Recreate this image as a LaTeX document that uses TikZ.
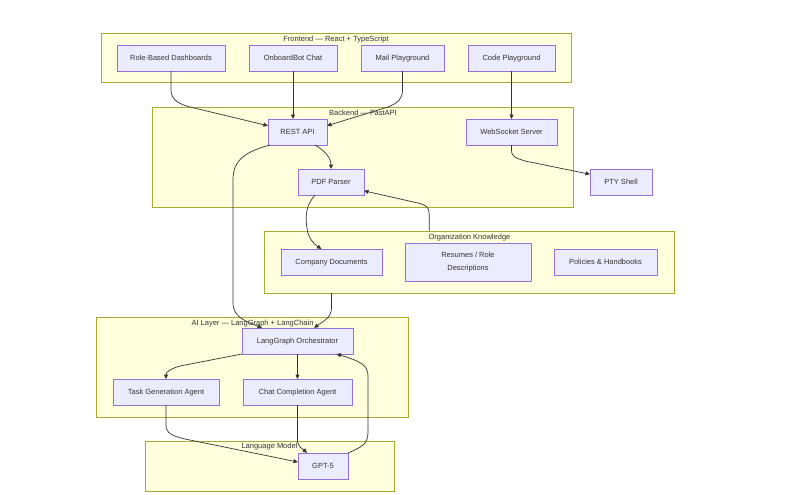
\documentclass[tikz,border=0pt]{standalone}
\usepackage{fontspec}
\setmainfont{Liberation Sans}
\usetikzlibrary{arrows.meta,calc}
\definecolor{clfill}{HTML}{FFFFDE}
\definecolor{cldraw}{HTML}{AAAA33}
\definecolor{ndfill}{HTML}{ECECFF}
\definecolor{nddraw}{HTML}{9370DB}
\definecolor{txt}{HTML}{333333}
\begin{document}
\begin{tikzpicture}[x=1pt,y=-1pt,
  nbox/.style={draw=nddraw, fill=ndfill, line width=0.6pt, minimum height=26pt, inner sep=0pt, outer sep=0pt, text=txt, font=\fontsize{7.5}{12.5}\selectfont, align=center, text height=5.4pt, text depth=0.8pt},
  cluster/.style={draw=cldraw, fill=clfill, line width=0.6pt, inner sep=0pt, outer sep=0pt, anchor=north west},
  ctitle/.style={text=txt, font=\fontsize{7.5}{9}\selectfont, inner sep=0pt, text height=5.4pt, text depth=1.6pt},
  edge/.style={draw=txt, line width=0.7pt, -{Triangle[length=4.5pt,width=4pt]}}]
\fill[white] (0,0) rectangle (806,495);
\useasboundingbox (0,0) rectangle (806,495);

% clusters
\node[cluster, minimum width=470pt, minimum height=49pt] (fe) at (101,33) {};
\node[cluster, minimum width=421pt, minimum height=100pt] (be) at (152,107) {};
\node[cluster, minimum width=410pt, minimum height=62pt] (ok) at (264,231) {};
\node[cluster, minimum width=312pt, minimum height=100pt] (ai) at (96,317) {};
\node[cluster, minimum width=249pt, minimum height=50pt] (lm) at (145,441) {};

\node[ctitle] (fet) at (336,39.5) {Frontend — React + TypeScript};
\node[ctitle] (bet) at (363,113.5) {Backend — FastAPI};
\node[ctitle] (okt) at (469.5,237.5) {Organization Knowledge};
\node[ctitle] (ait) at (252.5,323.5) {AI Layer — LangGraph + LangChain};
\node[ctitle] (lmt) at (269.5,447) {Language Model};

% nodes
\node[nbox, minimum width=108pt] (rbd) at (171,58) {Role-Based Dashboards};
\node[nbox, minimum width=88pt] (obc) at (293,58) {OnboardBot Chat};
\node[nbox, minimum width=83pt] (mail) at (402.5,58) {Mail Playground};
\node[nbox, minimum width=87pt] (code) at (511.5,58) {Code Playground};
\node[nbox, minimum width=59pt] (rest) at (297.5,132) {REST API};
\node[nbox, minimum width=91pt] (ws) at (511.5,132) {WebSocket Server};
\node[nbox, minimum width=66pt] (pdf) at (331,182) {PDF Parser};
\node[nbox, minimum width=62pt] (pty) at (621,182) {PTY Shell};
\node[nbox, minimum width=101pt] (cdocs) at (331.5,262) {Company Documents};
\node[nbox, minimum width=126pt, minimum height=38pt, text height=, text depth=] (res) at (468,262) {Resumes / Role\\Descriptions};
\node[nbox, minimum width=103pt] (pol) at (605.5,262) {Policies \& Handbooks};
\node[nbox, minimum width=111pt] (orch) at (297.5,341) {LangGraph Orchestrator};
\node[nbox, minimum width=106pt] (task) at (166,392) {Task Generation Agent};
\node[nbox, minimum width=109pt] (chat) at (297.5,392) {Chat Completion Agent};
\node[nbox, minimum width=50pt] (gpt) at (323,466) {GPT-5};

% edges
\draw[edge] (rbd.south) -- (171,90) .. controls (171,99) and (178,104) .. (190,107) -- (rest.168);
\draw[edge] (obc.south) -- (obc.south |- rest.north);
\draw[edge] (mail.south) -- (402.5,90) .. controls (402.5,99) and (398,103) .. (388,107) -- (rest.12);
\draw[edge] (code.south) -- (ws.north);
\draw[edge] ($(rest.south west)!0.03!(rest.south east)$) .. controls (245,152) and (233,160) .. (233,180) -- (233,303) .. controls (233,318) and (248,322) .. ($(orch.north west)!0.18!(orch.north east)$);
\draw[edge] ($(rest.south west)!0.8!(rest.south east)$) .. controls (325,151) and (331,158) .. (pdf.north);
\draw[edge] (ws.south) -- (511.5,150) .. controls (511.5,157) and (516,158) .. (525,161) -- (pty.166);
\draw[edge] ($(ok.north west)!0.403!(ok.north east)$) -- (429.2,214) .. controls (429.2,207) and (426,205) .. (418,203) -- (pdf.-15);
\draw[edge] ($(pdf.south west)!0.26!(pdf.south east)$) .. controls (306,205) and (305,216) .. (307,228) .. controls (308,238) and (314,244) .. ($(cdocs.north west)!0.4!(cdocs.north east)$);
\draw[edge] (cdocs.south |- ok.south) -- (331.5,308) .. controls (331.5,318) and (322,322) .. ($(orch.north west)!0.65!(orch.north east)$);
\draw[edge] (orch.south west) -- (180,366) .. controls (170,369) and (166,372) .. (task.north);
\draw[edge] (orch.south) -- (chat.north);
\draw[edge] (task.south) -- (166,425) .. controls (166,433) and (172,436) .. (185,439) -- (gpt.171);
\draw[edge] (chat.south) -- (297.5,440) .. controls (297.5,447) and (303,449) .. ($(gpt.north west)!0.18!(gpt.north east)$);
\draw[edge] (gpt.north east) .. controls (362,447) and (368,444) .. (368,432) -- (368,376) .. controls (368,365) and (360,361) .. ($(orch.south west)!0.85!(orch.south east)$);
\end{tikzpicture}
\end{document}
